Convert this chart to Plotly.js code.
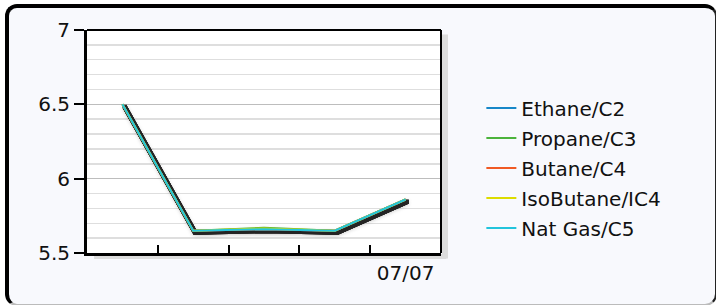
<!DOCTYPE html>
<html>
<head>
<meta charset="utf-8">
<script src="https://cdn.plot.ly/plotly-3.0.1.min.js"></script>
<style>
  html, body { margin: 0; padding: 0; background: #ffffff; }
  #wrap { position: relative; width: 716px; height: 305px; overflow: hidden; }
  #frame { position: absolute; left: 5px; top: 4px; width: 706px; height: 296px;
           border-top: 4px solid #000; border-left: 4px solid #000;
           border-right: 2px solid #222; border-bottom: 2px solid #bbb;
           border-radius: 12px; background: #f8f9fd; }
  #chart { position: absolute; left: 0; top: 0; width: 716px; height: 305px; }
</style>
</head>
<body>
<div id="wrap"><div id="frame"></div><div id="chart"></div></div>
<svg width="0" height="0" style="position:absolute">
  <defs>
    <filter id="lineShadow" x="-20%" y="-20%" width="150%" height="150%" color-interpolation-filters="sRGB">
      <feGaussianBlur in="SourceAlpha" stdDeviation="2" result="b"/>
      <feOffset in="b" dx="2" dy="3" result="bo"/>
      <feFlood flood-color="#444" flood-opacity="0.45" result="fc1"/>
      <feComposite in="fc1" in2="bo" operator="in" result="softc"/>
      <feMorphology in="SourceAlpha" operator="dilate" radius="0.6" result="d"/>
      <feOffset in="d" dx="1.5" dy="1.5" result="dof"/>
      <feFlood flood-color="#1a1a1a" flood-opacity="0.95" result="fc2"/>
      <feComposite in="fc2" in2="dof" operator="in" result="hardc"/>
      <feMerge><feMergeNode in="softc"/><feMergeNode in="hardc"/><feMergeNode in="SourceGraphic"/></feMerge>
    </filter>
  </defs>
</svg>
<script>
// ---- data ----
const categories = ["07/03", "07/04", "07/05", "07/06", "07/07"];
const tickLabels = ["", "", "", "", "07/07"];
const seriesNames = ["Ethane/C2", "Propane/C3", "Butane/C4", "IsoButane/IC4", "Nat Gas/C5"];
const ethane    = [6.50, 5.65, 5.66, 5.65, 5.86];
const propane   = [6.50, 5.65, 5.67, 5.65, 5.86];
const butane    = [6.50, 5.65, 5.66, 5.65, 5.86];
const isobutane = [6.50, 5.65, 5.665, 5.65, 5.86];
const natgas    = [6.50, 5.65, 5.66, 5.65, 5.86];
const seriesValues = [ethane, propane, butane, isobutane, natgas];
const seriesColors = ["#1787c8", "#4cb33c", "#f05a24", "#dcdc00", "#22c4dc"];

const W = 716, H = 305;
const M = {l: 87, r: 275, t: 30, b: 52};

const traces = seriesValues.map((vals, i) => ({
  x: categories, y: vals, mode: 'lines', type: 'scatter',
  name: seriesNames[i], legendgroup: 'g' + i,
  line: {color: seriesColors[i], width: 2}
}));

const fontFam = 'DejaVu Sans, Verdana, sans-serif';
const layout = {
  width: W, height: H,
  margin: M,
  paper_bgcolor: 'rgba(0,0,0,0)',
  plot_bgcolor: '#ffffff',
  font: {family: fontFam, size: 20, color: '#111'},
  showlegend: true,
  legend: {x: 1.114, xanchor: 'left', y: 0.738, yanchor: 'top',
    bgcolor: 'rgba(0,0,0,0)', font: {family: fontFam, size: 20, color: '#111'},
    traceorder: 'grouped', tracegroupgap: 1},
  xaxis: {type: 'category', categoryorder: 'array', categoryarray: categories,
    range: [-0.5, categories.length - 0.5], tickmode: 'array', tickvals: categories, ticktext: tickLabels,
    tickson: 'boundaries', ticks: 'inside', ticklen: 8, tickwidth: 2, tickcolor: '#000',
    showline: true, linecolor: '#000', linewidth: 3, showgrid: false, zeroline: false,
    fixedrange: true},
  yaxis: {range: [5.5, 7], dtick: 0.5, tick0: 5.5, ticks: 'outside', ticklen: 10,
    tickwidth: 2, tickcolor: '#000', showline: true, linecolor: '#000', linewidth: 3,
    showgrid: true, gridcolor: '#bdbdbd', gridwidth: 1.5, zeroline: false,
    minor: {dtick: 0.1, showgrid: true, gridcolor: '#dedede', gridwidth: 1.5},
    fixedrange: true},
  shapes: [
    {type: 'line', xref: 'paper', yref: 'paper', x0: 0, x1: 1, y0: 1, y1: 1,
     line: {color: '#000', width: 2}},
    {type: 'line', xref: 'paper', yref: 'paper', x0: 1, x1: 1, y0: 0, y1: 1,
     line: {color: '#000', width: 2}},
    {type: 'rect', xref: 'paper', yref: 'paper', xsizemode: 'pixel', xanchor: 1,
     x0: 1, x1: 7, y0: -0.025, y1: 0.98, fillcolor: '#dcdcdc', line: {width: 0}, layer: 'below'},
    {type: 'rect', xref: 'paper', yref: 'paper', ysizemode: 'pixel', yanchor: 0,
     y0: -1, y1: -6, x0: 0.02, x1: 1.015, fillcolor: '#dcdcdc', line: {width: 0}, layer: 'below'}
  ]
};

Plotly.newPlot('chart', traces, layout, {displayModeBar: false, staticPlot: true}).then(gd => {
  const layers = gd.querySelectorAll('g.scatterlayer');
  if (!layers.length) throw new Error('no scatterlayer found');
  layers.forEach(l => {
    // only the plot-area layer (inside cartesian subplot), not legend
    if (l.closest('.cartesianlayer')) l.setAttribute('filter', 'url(#lineShadow)');
  });
});
</script>
</body>
</html>
